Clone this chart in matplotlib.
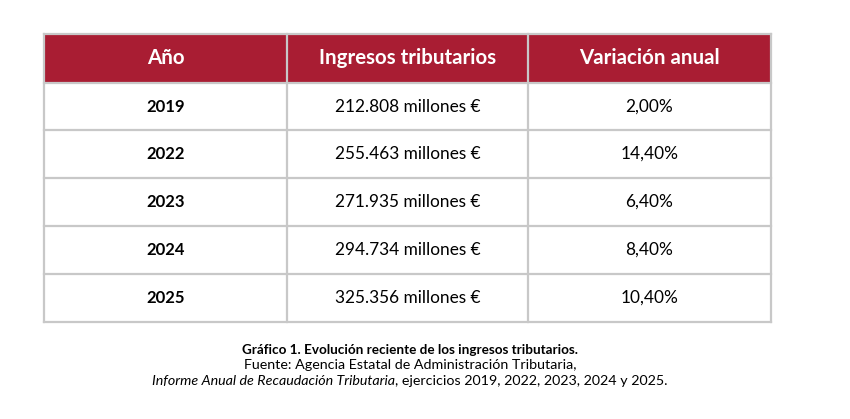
import matplotlib
matplotlib.use("Agg")
import matplotlib.pyplot as plt
from matplotlib.patches import Rectangle

# === DATA ===
headers = ["Año", "Ingresos tributarios", "Variación anual"]
years = ["2019", "2022", "2023", "2024", "2025"]
ingresos = ["212.808 millones €", "255.463 millones €", "271.935 millones €",
            "294.734 millones €", "325.356 millones €"]
variacion = ["2,00%", "14,40%", "6,40%", "8,40%", "10,40%"]

caption_title = "Gráfico 1. Evolución reciente de los ingresos tributarios."
caption_source = "Fuente: Agencia Estatal de Administración Tributaria,"
caption_italic = "Informe Anual de Recaudación Tributaria"
caption_rest = ", ejercicios 2019, 2022, 2023, 2024 y 2025."

# === LAYOUT (pixels) ===
col_edges = [44, 287, 528, 771]
row_edges = [34, 83, 130, 178, 226, 274, 322]
header_color = "#A91D33"
grid_color = "#C8C8C8"
font = "Lato"

fig = plt.figure(figsize=(8.5, 4.19), dpi=100)
ax = fig.add_axes([0, 0, 1, 1])
ax.set_xlim(0, 850)
ax.set_ylim(419, 0)
ax.axis("off")

# header band
ax.add_patch(Rectangle((col_edges[0], row_edges[0]), col_edges[-1] - col_edges[0],
                       row_edges[1] - row_edges[0], facecolor=header_color, edgecolor="none"))

# grid lines
for x in col_edges:
    ax.plot([x, x], [row_edges[0], row_edges[-1]], color=grid_color, lw=1.6, zorder=3)
for y in row_edges:
    ax.plot([col_edges[0], col_edges[-1]], [y, y], color=grid_color, lw=1.6, zorder=3)

centers_x = [(col_edges[i] + col_edges[i + 1]) / 2 for i in range(3)]
centers_y = [(row_edges[i] + row_edges[i + 1]) / 2 for i in range(len(row_edges) - 1)]

for cx, h in zip(centers_x, headers):
    ax.text(cx, centers_y[0], h, ha="center", va="center", color="white",
            fontsize=14.8, fontweight="bold", family=font, zorder=4)

rows = list(zip(years, ingresos, variacion))
for cy, row in zip(centers_y[1:], rows):
    for j, (cx, val) in enumerate(zip(centers_x, row)):
        ax.text(cx, cy, val, ha="center", va="center", color="black",
                fontsize=12 if j == 0 else 12.4,
                fontweight="bold" if j == 0 else "normal",
                family=font, zorder=4)

# === CAPTION ===
ax.text(410, 350, caption_title, ha="center", va="center", fontsize=9.7,
        fontweight="bold", family=font)
ax.text(410, 365, caption_source, ha="center", va="center", fontsize=10.3, family=font)

fig.canvas.draw()
renderer = fig.canvas.get_renderer()
t1 = ax.text(0, 381, caption_italic, ha="left", va="center", fontsize=10.3,
             style="italic", family=font)
t2 = ax.text(0, 381, caption_rest, ha="left", va="center", fontsize=10.3, family=font)
w1 = t1.get_window_extent(renderer).width
w2 = t2.get_window_extent(renderer).width
start = 410 - (w1 + w2) / 2
t1.set_x(start)
t2.set_x(start + w1)

fig.savefig("out.png", dpi=100, facecolor="white")
